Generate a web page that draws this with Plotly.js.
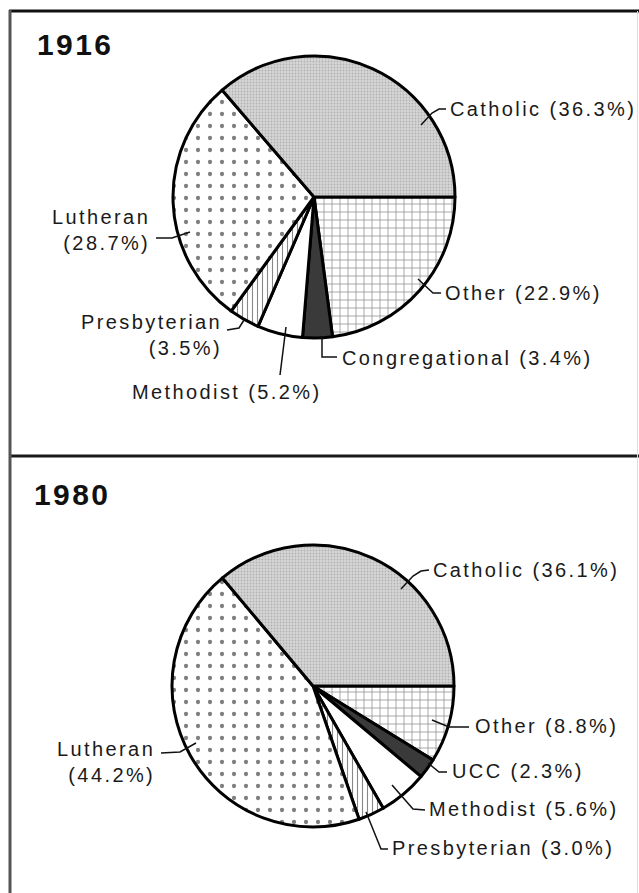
<!DOCTYPE html>
<html>
<head>
<meta charset="utf-8">
<script src="https://cdn.plot.ly/plotly-3.0.1.min.js"></script>
<style>
  html, body { margin: 0; padding: 0; background: #ffffff; }
  #chart { width: 639px; height: 893px; }
  .annotation-text { letter-spacing: 2.4px; }
</style>
</head>
<body>
<div id="chart"></div>
<script>
// ---- data ----
const years = ['1916', '1980'];
const labels1916 = ['Catholic', 'Lutheran', 'Presbyterian', 'Methodist', 'Congregational', 'Other'];
const values1916 = [36.3, 28.7, 3.5, 5.2, 3.4, 22.9];
const labels1980 = ['Catholic', 'Lutheran', 'Presbyterian', 'Methodist', 'UCC', 'Other'];
const values1980 = [36.1, 44.2, 3.0, 5.6, 2.3, 8.8];

// ---- styling ----
const W = 639, H = 893;
const px = x => x / W;
const py = y => 1 - y / H;
const ink = '#1a1a1a';
const fontFamily = '"Liberation Sans", Arial, Helvetica, sans-serif';

// styles per category, in the same order as the label arrays
const sliceColors = ['#d6d6d6', '#ffffff', '#ffffff', '#ffffff', '#3a3a3a', '#ffffff'];
const patShape = ['.', '.', '|', '', '', '+'];
const patFg = ['#8c8c8c', '#000000', '#111111', '#ffffff', '#3a3a3a', '#1a1a1a'];
const patSize = [3, 12, 5, 8, 8, 8];
const patSolid = [0.3, 0.1, 0.22, 0.1, 0.1, 0.18];

const rev = a => a.slice().reverse();

// Drawn clockwise from 3 o'clock in reversed order, so the chart reads
// counter-clockwise from 3 o'clock: Catholic, Lutheran, ... , Other.
function pieTrace(labels, values, domain) {
  return {
    type: 'pie',
    labels: rev(labels),
    values: rev(values),
    sort: false,
    direction: 'clockwise',
    rotation: 90,
    textinfo: 'none',
    hoverinfo: 'skip',
    showlegend: false,
    domain: domain,
    marker: {
      colors: rev(sliceColors),
      line: { color: '#000000', width: 3 },
      pattern: {
        fillmode: 'overlay',
        shape: rev(patShape),
        fgcolor: rev(patFg),
        size: rev(patSize),
        solidity: rev(patSolid)
      }
    }
  };
}

const traces = [
  pieTrace(labels1916, values1916, { x: [px(173), px(455)], y: [py(338), py(56)] }),
  pieTrace(labels1980, values1980, { x: [px(172), px(454)], y: [py(827), py(545)] })
];

const lab = (labels, values, i) => labels[i] + ' (' + values[i].toFixed(1) + '%)';
const labNL = (labels, values, i) => labels[i] + '<br>(' + values[i].toFixed(1) + '%)';

function txt(text, x, y, xanchor, align) {
  return {
    xref: 'paper', yref: 'paper', x: px(x), y: py(y),
    xanchor: xanchor, yanchor: 'middle', align: align || xanchor,
    text: text, showarrow: false,
    font: { family: fontFamily, size: 20, color: ink }
  };
}

const annotations = [
  { xref: 'paper', yref: 'paper', x: px(35), y: py(44), xanchor: 'left', yanchor: 'middle',
    text: '<b>' + years[0] + '</b>', showarrow: false,
    font: { family: fontFamily, size: 30, color: '#111' } },
  { xref: 'paper', yref: 'paper', x: px(32), y: py(494), xanchor: 'left', yanchor: 'middle',
    text: '<b>' + years[1] + '</b>', showarrow: false,
    font: { family: fontFamily, size: 30, color: '#111' } },
  // 1916
  txt(lab(labels1916, values1916, 0), 448, 109, 'left'),
  txt(labNL(labels1916, values1916, 1), 152, 230, 'right'),
  txt(labNL(labels1916, values1916, 2), 224, 335, 'right'),
  txt(lab(labels1916, values1916, 3), 130, 392, 'left'),
  txt(lab(labels1916, values1916, 4), 340, 358, 'left'),
  txt(lab(labels1916, values1916, 5), 443, 293, 'left'),
  // 1980
  txt(lab(labels1980, values1980, 0), 431, 570, 'left'),
  txt(labNL(labels1980, values1980, 1), 157, 762, 'right'),
  txt(lab(labels1980, values1980, 2), 390, 848, 'left'),
  txt(lab(labels1980, values1980, 3), 427, 809, 'left'),
  txt(lab(labels1980, values1980, 4), 450, 771, 'left'),
  txt(lab(labels1980, values1980, 5), 473, 726, 'left')
];

function leader(pts) {
  let d = '';
  pts.forEach((p, i) => { d += (i === 0 ? 'M ' : ' L ') + px(p[0]) + ' ' + py(p[1]); });
  return { type: 'path', xref: 'paper', yref: 'paper', path: d,
           line: { color: '#111', width: 1.5 }, layer: 'above' };
}
function hline(x0, x1, y, w, c) {
  return { type: 'line', xref: 'paper', yref: 'paper', x0: px(x0), x1: px(x1), y0: py(y), y1: py(y),
           line: { color: c, width: w }, layer: 'above' };
}
function vline(x, y0, y1, w, c) {
  return { type: 'line', xref: 'paper', yref: 'paper', x0: px(x), x1: px(x), y0: py(y0), y1: py(y1),
           line: { color: c, width: w }, layer: 'above' };
}

const shapes = [
  hline(9, 639, 11, 3, '#111'),
  hline(9, 639, 456, 3, '#1a1a1a'),
  vline(10, 10, 893, 3, '#555'),
  vline(637.5, 11, 893, 1, '#dddddd'),
  // 1916 leaders
  leader([[446, 109], [439, 109], [432, 113], [421, 125]]),
  leader([[156, 238], [172, 238], [190, 232]]),
  leader([[441, 293], [433, 293], [418, 279]]),
  leader([[322, 336], [322, 357], [337, 357]]),
  leader([[227, 330], [239, 328], [244, 320]]),
  leader([[280, 375], [286, 327]]),
  // 1980 leaders
  leader([[429, 570], [421, 571], [413, 576], [401, 589]]),
  leader([[469, 727], [449, 727], [432, 720]]),
  leader([[447, 772], [439, 772], [428, 763]]),
  leader([[425, 810], [413, 809], [392, 785]]),
  leader([[388, 849], [381, 849], [366, 812]]),
  leader([[161, 753], [180, 752], [196, 743]])
];

const layout = {
  width: W, height: H,
  margin: { l: 0, r: 0, t: 0, b: 0, pad: 0 },
  paper_bgcolor: '#ffffff',
  plot_bgcolor: '#ffffff',
  showlegend: false,
  annotations: annotations,
  shapes: shapes
};

Plotly.newPlot('chart', traces, layout, { staticPlot: true, displayModeBar: false });
</script>
</body>
</html>
